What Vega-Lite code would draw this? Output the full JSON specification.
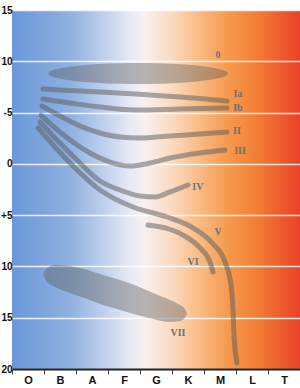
{
  "$schema": "https://vega.github.io/schema/vega-lite/v6.json",
  "width": 288,
  "height": 359,
  "autosize": {"type": "none"},
  "padding": {"left": 12, "top": 10, "right": 0, "bottom": 19},
  "background": "white",
  "datasets": {
    "lines": [
      {"c": "Ia", "x": 0.969, "y": -7.30}, {"c": "Ia", "x": 2.125, "y": -7.10}, {"c": "Ia", "x": 3.844, "y": -6.81}, {"c": "Ia", "x": 5.25, "y": -6.52}, {"c": "Ia", "x": 6.719, "y": -6.13},
      {"c": "Ib", "x": 0.969, "y": -6.32}, {"c": "Ib", "x": 1.813, "y": -5.93}, {"c": "Ib", "x": 2.5, "y": -5.64}, {"c": "Ib", "x": 3.844, "y": -5.25}, {"c": "Ib", "x": 5.25, "y": -5.35}, {"c": "Ib", "x": 6.719, "y": -5.45},
      {"c": "II", "x": 0.9375, "y": -5.64}, {"c": "II", "x": 1.5, "y": -4.67}, {"c": "II", "x": 2.125, "y": -3.69}, {"c": "II", "x": 2.75, "y": -3.01}, {"c": "II", "x": 3.375, "y": -2.62}, {"c": "II", "x": 4.0, "y": -2.52}, {"c": "II", "x": 4.9375, "y": -2.72}, {"c": "II", "x": 5.875, "y": -2.91}, {"c": "II", "x": 6.719, "y": -3.11},
      {"c": "III", "x": 0.906, "y": -4.76}, {"c": "III", "x": 1.344, "y": -3.50}, {"c": "III", "x": 1.8125, "y": -2.33}, {"c": "III", "x": 2.4375, "y": -1.06}, {"c": "III", "x": 3.0625, "y": -0.18}, {"c": "III", "x": 3.6875, "y": 0.21}, {"c": "III", "x": 4.3125, "y": -0.08}, {"c": "III", "x": 4.9375, "y": -0.57}, {"c": "III", "x": 5.875, "y": -1.06}, {"c": "III", "x": 6.656, "y": -1.35},
      {"c": "IV", "x": 0.875, "y": -4.08}, {"c": "IV", "x": 1.344, "y": -2.52}, {"c": "IV", "x": 1.969, "y": -0.57}, {"c": "IV", "x": 2.75, "y": 1.67}, {"c": "IV", "x": 3.375, "y": 2.55}, {"c": "IV", "x": 4.0, "y": 3.13}, {"c": "IV", "x": 4.469, "y": 3.23}, {"c": "IV", "x": 4.9375, "y": 2.74}, {"c": "IV", "x": 5.5, "y": 2.06},
      {"c": "V", "x": 0.8125, "y": -3.50}, {"c": "V", "x": 1.344, "y": -1.64}, {"c": "V", "x": 1.969, "y": 0.40}, {"c": "V", "x": 2.75, "y": 2.55}, {"c": "V", "x": 3.781, "y": 4.21}, {"c": "V", "x": 4.844, "y": 5.18}, {"c": "V", "x": 5.656, "y": 6.25}, {"c": "V", "x": 6.281, "y": 7.81}, {"c": "V", "x": 6.656, "y": 9.57}, {"c": "V", "x": 6.844, "y": 11.81}, {"c": "V", "x": 6.906, "y": 14.25}, {"c": "V", "x": 6.9375, "y": 16.68}, {"c": "V", "x": 7.031, "y": 19.41},
      {"c": "VI", "x": 4.25, "y": 5.96}, {"c": "VI", "x": 4.781, "y": 6.25}, {"c": "VI", "x": 5.344, "y": 6.94}, {"c": "VI", "x": 5.875, "y": 8.20}, {"c": "VI", "x": 6.1875, "y": 9.57}, {"c": "VI", "x": 6.281, "y": 10.54}
    ],
    "blobs": [
      {"c": "0", "x": 1.125, "y": -8.81, "y2": -8.81}, {"c": "0", "x": 1.156, "y": -8.96, "y2": -8.66}, {"c": "0", "x": 1.25, "y": -9.11, "y2": -8.51}, {"c": "0", "x": 1.5, "y": -9.32, "y2": -8.30}, {"c": "0", "x": 1.969, "y": -9.54, "y2": -8.08}, {"c": "0", "x": 2.594, "y": -9.71, "y2": -7.91}, {"c": "0", "x": 3.375, "y": -9.81, "y2": -7.81}, {"c": "0", "x": 3.9375, "y": -9.83, "y2": -7.79}, {"c": "0", "x": 4.625, "y": -9.80, "y2": -7.82}, {"c": "0", "x": 5.406, "y": -9.69, "y2": -7.93}, {"c": "0", "x": 6.031, "y": -9.49, "y2": -8.13}, {"c": "0", "x": 6.4375, "y": -9.28, "y2": -8.34}, {"c": "0", "x": 6.656, "y": -9.07, "y2": -8.55}, {"c": "0", "x": 6.719, "y": -8.96, "y2": -8.66}, {"c": "0", "x": 6.75, "y": -8.81, "y2": -8.81},
      {"c": "VII", "x": 0.969, "y": 10.74, "y2": 10.74}, {"c": "VII", "x": 1.094, "y": 10.15, "y2": 11.52}, {"c": "VII", "x": 1.344, "y": 9.86, "y2": 12.01}, {"c": "VII", "x": 1.8125, "y": 9.96, "y2": 12.59}, {"c": "VII", "x": 2.344, "y": 10.35, "y2": 13.18}, {"c": "VII", "x": 2.844, "y": 10.84, "y2": 13.76}, {"c": "VII", "x": 3.375, "y": 11.32, "y2": 14.25}, {"c": "VII", "x": 3.906, "y": 11.91, "y2": 14.74}, {"c": "VII", "x": 4.406, "y": 12.59, "y2": 15.13}, {"c": "VII", "x": 4.9375, "y": 13.27, "y2": 15.42}, {"c": "VII", "x": 5.25, "y": 13.76, "y2": 15.32}, {"c": "VII", "x": 5.406, "y": 14.15, "y2": 15.03}, {"c": "VII", "x": 5.469, "y": 14.59, "y2": 14.59}
    ],
    "labels": [
      {"t": "0", "x": 6.4375, "y": -10.61},
      {"t": "Ia", "x": 7.06, "y": -6.81},
      {"t": "Ib", "x": 7.06, "y": -5.45},
      {"t": "II", "x": 7.03, "y": -3.20},
      {"t": "III", "x": 7.125, "y": -1.25},
      {"t": "IV", "x": 5.81, "y": 2.26},
      {"t": "V", "x": 6.4375, "y": 6.64},
      {"t": "VI", "x": 5.656, "y": 9.57},
      {"t": "VII", "x": 5.1875, "y": 16.49}
    ]
  },
  "encoding": {
    "x": {
      "field": "x", "type": "quantitative",
      "scale": {"domain": [0, 9], "nice": false, "zero": false},
      "axis": {
        "title": null, "grid": false,
        "values": [0, 1, 2, 3, 4, 5, 6, 7, 8],
        "labelExpr": "['O','B','A','F','G','K','M','L','T'][datum.value]",
        "labelOffset": 16, "labelAlign": "center", "labelFlush": false, "labelOverlap": false,
        "tickSize": 5, "tickColor": "#444", "tickWidth": 1,
        "domainColor": "#222", "domainWidth": 2,
        "labelFont": "Liberation Sans", "labelFontWeight": "bold", "labelFontSize": 11, "labelColor": "#111",
        "labelPadding": 0
      }
    },
    "y": {
      "field": "y", "type": "quantitative",
      "scale": {"domain": [-15, 20], "reverse": true, "nice": false, "zero": false},
      "axis": {
        "title": null, "values": [-15, -10, -5, 0, 5, 10, 15, 20],
        "labelExpr": "datum.value == -5 ? '-5' : (datum.value == 5 ? '+5' : format(abs(datum.value), 'd'))",
        "ticks": false, "domain": false, "labelPadding": 0,
        "labelFlush": false, "labelOverlap": false,
        "grid": true, "gridColor": "#ffffff", "gridWidth": 1.5, "gridOpacity": 0.85,
        "labelFont": "Liberation Sans", "labelFontWeight": "bold", "labelFontSize": 10, "labelColor": "#111"
      }
    }
  },
  "layer": [
    {
      "data": {"name": "blobs"},
      "mark": {"type": "area", "interpolate": "monotone", "color": "#5e5e5e", "opacity": 0.42},
      "encoding": {"y2": {"field": "y2"}, "detail": {"field": "c"}}
    },
    {
      "data": {"name": "lines"},
      "mark": {"type": "line", "interpolate": "monotone", "color": "#5a5a5a", "opacity": 0.5, "strokeWidth": 5, "strokeCap": "round"},
      "encoding": {"detail": {"field": "c"}}
    },
    {
      "data": {"name": "labels"},
      "mark": {"type": "text", "font": "Liberation Serif", "fontWeight": "bold", "fontSize": 10, "color": "#707070", "align": "center", "baseline": "middle"},
      "encoding": {"text": {"field": "t"}}
    }
  ],
  "config": {
    "view": {
      "stroke": null,
      "fill": {
        "gradient": "linear", "x1": 0, "y1": 0, "x2": 1, "y2": 0,
        "stops": [
          {"offset": 0, "color": "#6a97d8"},
          {"offset": 0.2, "color": "#8fb0e0"},
          {"offset": 0.33, "color": "#c3d3ee"},
          {"offset": 0.41, "color": "#e8eaf5"},
          {"offset": 0.46, "color": "#f8f0f0"},
          {"offset": 0.55, "color": "#fbdcc4"},
          {"offset": 0.65, "color": "#f9bb85"},
          {"offset": 0.75, "color": "#f59a4d"},
          {"offset": 0.85, "color": "#f27e35"},
          {"offset": 1, "color": "#ea4128"}
        ]
      }
    }
  }
}
